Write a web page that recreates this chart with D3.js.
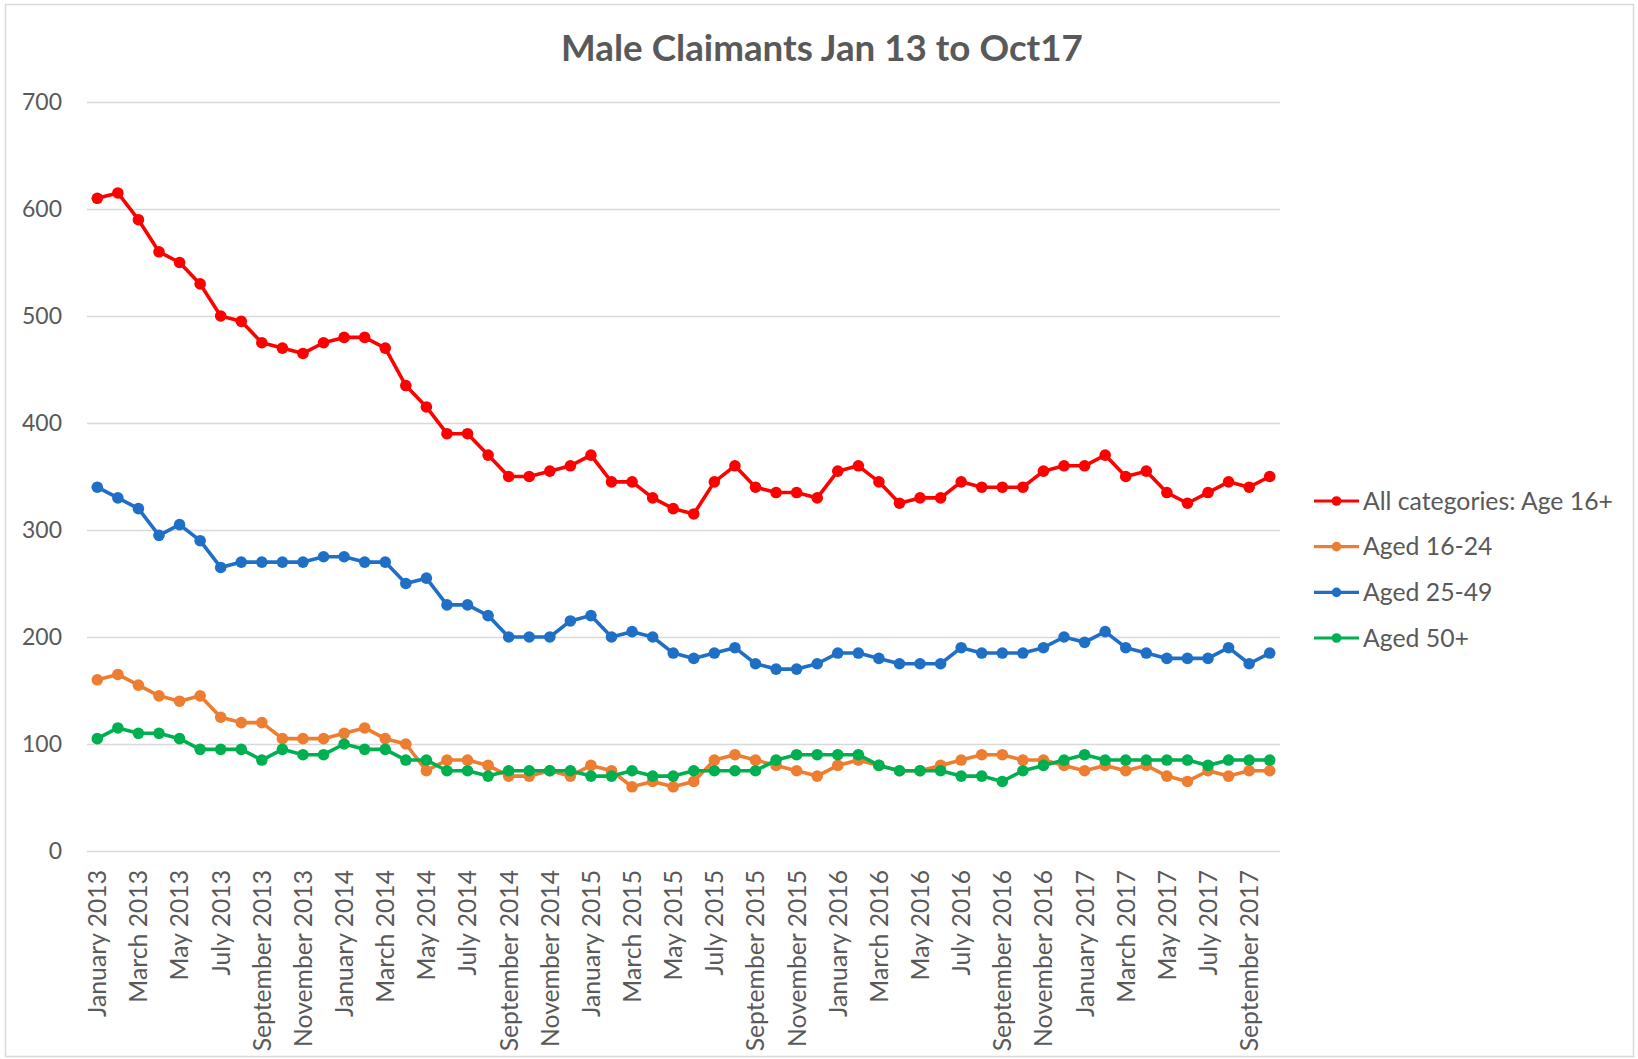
<!DOCTYPE html>
<html>
<head>
<meta charset="utf-8">
<script src="https://cdn.jsdelivr.net/npm/d3@7"></script>
<style>
  html, body { margin: 0; padding: 0; background: #ffffff; }
  svg { display: block; }
  text { font-family: Lato, "Open Sans", sans-serif; fill: #595959; }
</style>
</head>
<body>
<svg id="chart" width="1638" height="1059"></svg>
<script>
// ---------------- DATA ----------------
const chartTitle = "Male Claimants Jan 13 to Oct17";

const categories = [
  "January 2013","February 2013","March 2013","April 2013","May 2013","June 2013",
  "July 2013","August 2013","September 2013","October 2013","November 2013","December 2013",
  "January 2014","February 2014","March 2014","April 2014","May 2014","June 2014",
  "July 2014","August 2014","September 2014","October 2014","November 2014","December 2014",
  "January 2015","February 2015","March 2015","April 2015","May 2015","June 2015",
  "July 2015","August 2015","September 2015","October 2015","November 2015","December 2015",
  "January 2016","February 2016","March 2016","April 2016","May 2016","June 2016",
  "July 2016","August 2016","September 2016","October 2016","November 2016","December 2016",
  "January 2017","February 2017","March 2017","April 2017","May 2017","June 2017",
  "July 2017","August 2017","September 2017","October 2017"
];

// x-axis tick labels shown (every second month)
const xTickLabels = [
  "January 2013","March 2013","May 2013","July 2013","September 2013","November 2013",
  "January 2014","March 2014","May 2014","July 2014","September 2014","November 2014",
  "January 2015","March 2015","May 2015","July 2015","September 2015","November 2015",
  "January 2016","March 2016","May 2016","July 2016","September 2016","November 2016",
  "January 2017","March 2017","May 2017","July 2017","September 2017"
];

const yTicks = [0, 100, 200, 300, 400, 500, 600, 700];

const seriesNames = ["All categories: Age 16+", "Aged 16-24", "Aged 25-49", "Aged 50+"];
const seriesColors = ["#FF0000", "#ED7D31", "#1F6FC6", "#00B050"];

const allCategories = [
  610,615,590,560,550,530,500,495,475,470,465,475,
  480,480,470,435,415,390,390,370,350,350,355,360,
  370,345,345,330,320,315,345,360,340,335,335,330,
  355,360,345,325,330,330,345,340,340,340,355,360,
  360,370,350,355,335,325,335,345,340,350
];
const aged16to24 = [
  160,165,155,145,140,145,125,120,120,105,105,105,
  110,115,105,100,75,85,85,80,70,70,75,70,
  80,75,60,65,60,65,85,90,85,80,75,70,
  80,85,80,75,75,80,85,90,90,85,85,80,
  75,80,75,80,70,65,75,70,75,75
];
const aged25to49 = [
  340,330,320,295,305,290,265,270,270,270,270,275,
  275,270,270,250,255,230,230,220,200,200,200,215,
  220,200,205,200,185,180,185,190,175,170,170,175,
  185,185,180,175,175,175,190,185,185,185,190,200,
  195,205,190,185,180,180,180,190,175,185
];
const aged50plus = [
  105,115,110,110,105,95,95,95,85,95,90,90,
  100,95,95,85,85,75,75,70,75,75,75,75,
  70,70,75,70,70,75,75,75,75,85,90,90,
  90,90,80,75,75,75,70,70,65,75,80,85,
  90,85,85,85,85,85,80,85,85,85
];

const seriesValues = [allCategories, aged16to24, aged25to49, aged50plus];

// ---------------- CHART ----------------
const svg = d3.select("#chart");
const W = 1638, H = 1059;
const plot = { left: 87, right: 1280, top: 102, bottom: 851 };

// outer border
svg.append("rect")
  .attr("x", 5.5).attr("y", 4.5)
  .attr("width", 1628).attr("height", 1052)
  .attr("fill", "#ffffff")
  .attr("stroke", "#d9d9d9").attr("stroke-width", 1.5);

const x = d3.scaleBand().domain(categories).range([plot.left, plot.right]).padding(0);
const xc = d => x(d) + x.bandwidth() / 2;
const y = d3.scaleLinear().domain([0, 700]).range([plot.bottom, plot.top]);

// helper: fit font size so that a sample string reaches a target width
function fitSize(sample, target, weight) {
  const t = svg.append("text").attr("font-size", 100).attr("font-weight", weight || 400).text(sample);
  const w = t.node().getComputedTextLength();
  t.remove();
  return 100 * target / w;
}
const titleSize = fitSize(chartTitle, 522, 700);
const tickSize = fitSize("700", 40, 400);
const xLabelSize = fitSize("January 2013", 147, 400);
const legendSize = fitSize("All categories: Age 16+", 250, 400);

// gridlines
const yAxis = d3.axisLeft(y).tickValues(yTicks).tickSize(-(plot.right - plot.left)).tickPadding(24);
const gy = svg.append("g").attr("transform", `translate(${plot.left},0)`).call(yAxis);
gy.select(".domain").remove();
gy.selectAll(".tick line").attr("stroke", "#d9d9d9").attr("stroke-width", 1.6);
gy.selectAll(".tick text")
  .attr("font-size", tickSize)
  .attr("fill", "#595959")
  .attr("font-family", "Lato, 'Open Sans', sans-serif")
  .attr("x", 62 - plot.left)
  .attr("text-anchor", "end");

// x axis labels (rotated)
const xAxis = d3.axisBottom(x).tickValues(xTickLabels).tickSize(0).tickPadding(0);
const gx = svg.append("g").attr("transform", `translate(0,${plot.bottom})`).call(xAxis);
gx.select(".domain").remove();
gx.selectAll(".tick text")
  .attr("font-size", xLabelSize)
  .attr("fill", "#595959")
  .attr("font-family", "Lato, 'Open Sans', sans-serif")
  .attr("text-anchor", "end")
  .attr("transform", "rotate(-90)")
  .attr("x", -19)
  .attr("y", 0)
  .attr("dy", "0.36em");

// title
svg.append("text")
  .attr("x", 822).attr("y", 61)
  .attr("text-anchor", "middle")
  .attr("font-size", titleSize)
  .attr("font-weight", 700)
  .attr("fill", "#595959")
  .text(chartTitle);

// lines and markers
const line = d3.line()
  .x((d, i) => xc(categories[i]))
  .y(d => y(d));

seriesValues.forEach((vals, s) => {
  const g = svg.append("g");
  g.append("path")
    .datum(vals)
    .attr("d", line)
    .attr("fill", "none")
    .attr("stroke", seriesColors[s])
    .attr("stroke-width", 3.6)
    .attr("stroke-linejoin", "round");
  g.selectAll("circle")
    .data(vals)
    .join("circle")
    .attr("cx", (d, i) => xc(categories[i]))
    .attr("cy", d => y(d))
    .attr("r", 5.8)
    .attr("fill", seriesColors[s]);
});

// legend
const legendY = d3.scalePoint().domain(seriesNames).range([501, 638]);
const lg = svg.append("g");
seriesNames.forEach((name, s) => {
  const yy = legendY(name);
  lg.append("line")
    .attr("x1", 1314).attr("x2", 1359)
    .attr("y1", yy).attr("y2", yy)
    .attr("stroke", seriesColors[s]).attr("stroke-width", 3.2);
  lg.append("circle")
    .attr("cx", 1336.5).attr("cy", yy).attr("r", 4.8)
    .attr("fill", seriesColors[s]);
  lg.append("text")
    .attr("x", 1363).attr("y", yy)
    .attr("dy", "0.35em")
    .attr("font-size", legendSize)
    .attr("fill", "#595959")
    .text(name);
});
</script>
</body>
</html>
